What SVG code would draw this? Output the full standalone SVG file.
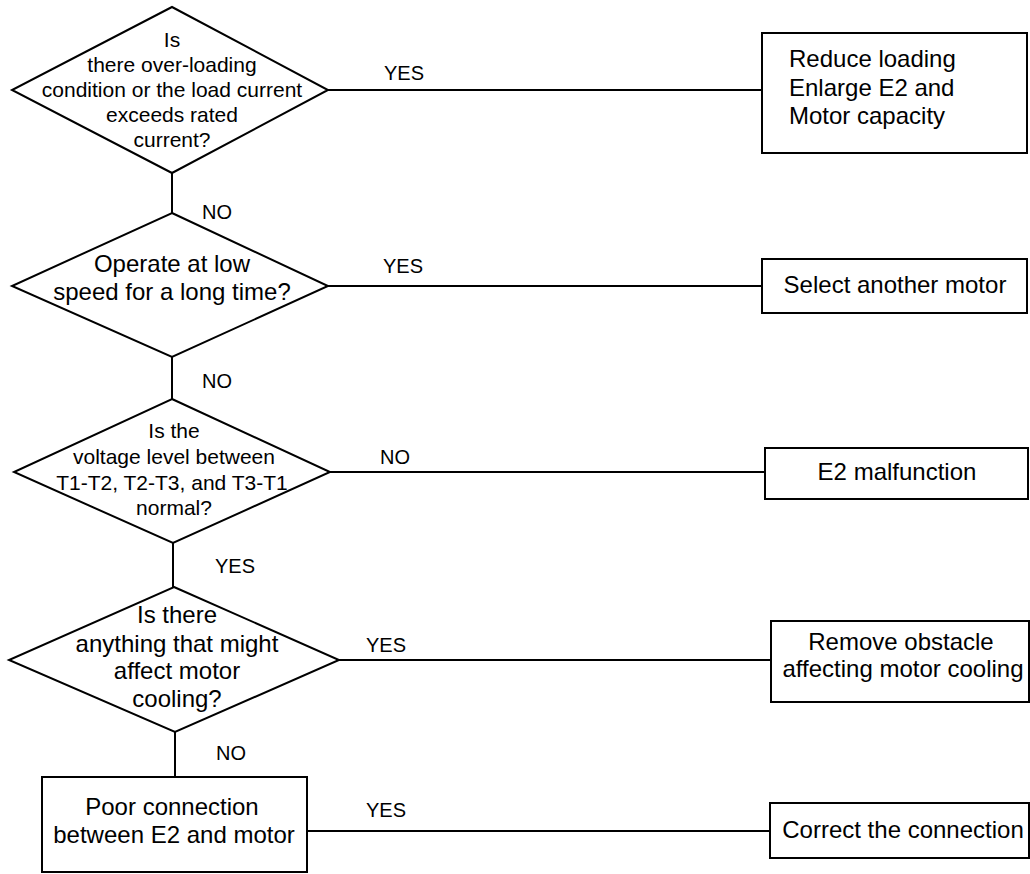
<svg xmlns="http://www.w3.org/2000/svg" width="1030" height="874" viewBox="0 0 1030 874">
<style>
.shape{fill:#fff;stroke:#000;stroke-width:2}
.conn line{stroke:#000;stroke-width:2}
text{font-family:"Liberation Sans",Arial,sans-serif;fill:#000}
.t24{font-size:24px;text-anchor:middle}
.t21{font-size:21px;text-anchor:middle}
.lbl{font-size:20px}
</style>
<rect width="1030" height="874" fill="#fff"/>
<g id="connectors" class="conn">
<line x1="328" y1="90" x2="762" y2="90"/>
<line x1="172" y1="173" x2="172" y2="213"/>
<line x1="328" y1="286" x2="762" y2="286"/>
<line x1="172" y1="357" x2="172" y2="399"/>
<line x1="330" y1="472" x2="765" y2="472"/>
<line x1="173" y1="543" x2="173" y2="587"/>
<line x1="339" y1="660" x2="771" y2="660"/>
<line x1="175" y1="732" x2="175" y2="777"/>
<line x1="307" y1="831" x2="770" y2="831"/>
</g>
<g id="labels">
<text class="lbl" x="384" y="80">YES</text>
<text class="lbl" x="202" y="219">NO</text>
<text class="lbl" x="383" y="273">YES</text>
<text class="lbl" x="202" y="388">NO</text>
<text class="lbl" x="380" y="464">NO</text>
<text class="lbl" x="215" y="573">YES</text>
<text class="lbl" x="366" y="652">YES</text>
<text class="lbl" x="216" y="760">NO</text>
<text class="lbl" x="366" y="817">YES</text>
</g>
<g id="d1">
<polygon class="shape" points="172,7 328,90 172,173 12,90"/>
<text class="t21" x="172" y="47">Is</text>
<text class="t21" x="172" y="72">there over-loading</text>
<text class="t21" x="172" y="97">condition or the load current</text>
<text class="t21" x="172" y="122">exceeds rated</text>
<text class="t21" x="172" y="147">current?</text>
</g>
<g id="b1">
<rect class="shape" x="762" y="33" width="265" height="120"/>
<text style="font-size:24px" x="789" y="67">Reduce loading</text>
<text style="font-size:24px" x="789" y="96">Enlarge E2 and</text>
<text style="font-size:24px" x="789" y="124">Motor capacity</text>
</g>
<g id="d2">
<polygon class="shape" points="172,213 328,286 172,357 12,286"/>
<text class="t24" x="172" y="272">Operate at low</text>
<text class="t24" x="172" y="300">speed for a long time?</text>
</g>
<g id="b2">
<rect class="shape" x="762" y="259" width="265" height="54"/>
<text class="t24" x="895" y="293">Select another motor</text>
</g>
<g id="d3">
<polygon class="shape" points="172,399 330,472 173,543 14,472"/>
<text class="t21" x="174" y="438">Is the</text>
<text class="t21" x="174" y="464">voltage level between</text>
<text class="t21" x="172" y="490">T1-T2, T2-T3, and T3-T1</text>
<text class="t21" x="174" y="515">normal?</text>
</g>
<g id="b3">
<rect class="shape" x="765" y="448" width="263" height="51"/>
<text class="t24" x="897" y="480">E2 malfunction</text>
</g>
<g id="d4">
<polygon class="shape" points="174,587 339,660 175,732 9,660"/>
<text class="t24" x="177" y="623">Is there</text>
<text class="t24" x="177" y="652">anything that might</text>
<text class="t24" x="177" y="679">affect motor</text>
<text class="t24" x="177" y="707">cooling?</text>
</g>
<g id="b4">
<rect class="shape" x="771" y="621" width="258" height="81"/>
<text class="t24" x="901" y="650">Remove obstacle</text>
<text class="t24" x="903" y="677">affecting motor cooling</text>
</g>
<g id="b5">
<rect class="shape" x="42" y="777" width="265" height="95"/>
<text class="t24" x="172" y="815">Poor connection</text>
<text class="t24" x="174" y="843">between E2 and motor</text>
</g>
<g id="b6">
<rect class="shape" x="770" y="803" width="259" height="55"/>
<text class="t24" x="903" y="838">Correct the connection</text>
</g>
</svg>
